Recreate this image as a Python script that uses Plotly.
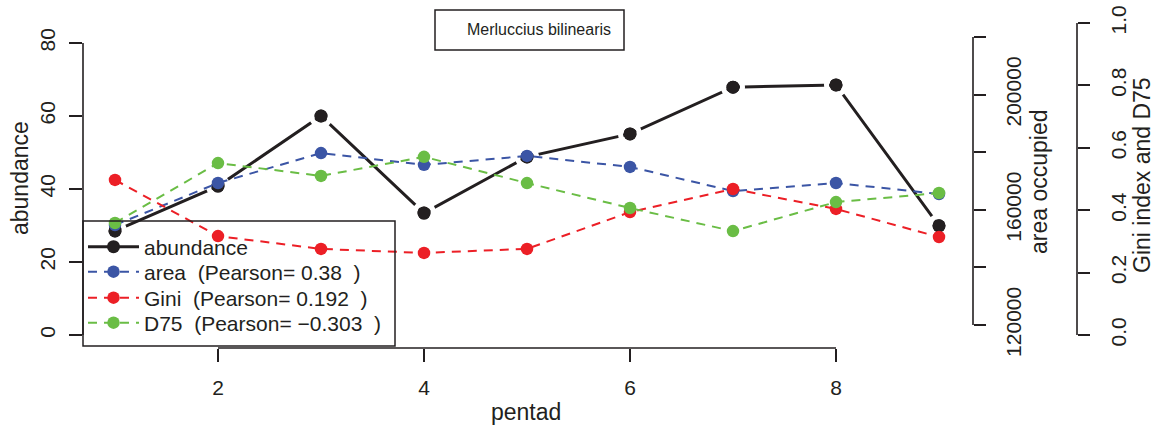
import plotly.graph_objects as go

# ---- data -------------------------------------------------------------
pentad = [1, 2, 3, 4, 5, 6, 7, 8, 9]
abundance = [28.5, 40.8, 60.0, 33.4, 48.8, 55.1, 67.9, 68.5, 29.9]
area = [154700, 169300, 179700, 175600, 178700, 174900, 166500, 169300, 165500]
gini = [0.497, 0.317, 0.276, 0.263, 0.276, 0.394, 0.468, 0.404, 0.314]
d75 = [0.359, 0.551, 0.510, 0.571, 0.487, 0.407, 0.333, 0.426, 0.455]

series_names = [
    "abundance",
    "area\u00a0\u00a0(Pearson=\u00a00.38\u00a0\u00a0)",
    "Gini\u00a0\u00a0(Pearson=\u00a00.192\u00a0\u00a0)",
    "D75\u00a0\u00a0(Pearson=\u00a0\u22120.303\u00a0\u00a0)",
]
species = "Merluccius bilinearis"

x_ticks = [2, 4, 6, 8]
abund_ticks = [0, 20, 40, 60, 80]
area_ticks = [120000, 140000, 160000, 180000, 200000, 220000]
area_ticktext = ["120000", "", "160000", "", "200000", ""]
ratio_ticks = [0.0, 0.2, 0.4, 0.6, 0.8, 1.0]
ratio_ticktext = ["0.0", "0.2", "0.4", "0.6", "0.8", "1.0"]

# ---- styling ----------------------------------------------------------
BLACK = "#231f20"
BLUE = "#3b55a5"
RED = "#ec1f26"
GREEN = "#6abd45"
FONT = "Liberation Sans, Arial, Helvetica, sans-serif"

W, H = 1154, 428
ML, MT, MB, MR = 83, 10, 80, 0
PW = W - ML - MR
PH = H - MT - MB


def paper_x(px):
    return (px - ML) / PW


def paper_y(py):
    return (H - MB - py) / PH


fig = go.Figure()

# abundance: solid line with points, a white ring around each point
fig.add_trace(go.Scatter(
    x=pentad, y=abundance, mode="lines+markers", name=series_names[0],
    line=dict(color=BLACK, width=3),
    marker=dict(color=BLACK, size=13),
    yaxis="y", legend="legend",
))
fig.add_trace(go.Scatter(
    x=pentad, y=abundance, mode="markers", showlegend=False, hoverinfo="skip",
    marker=dict(color="rgba(0,0,0,0)", size=19,
                line=dict(color="white", width=5)),
    yaxis="y",
))
fig.add_trace(go.Scatter(
    x=pentad, y=abundance, mode="markers", showlegend=False, hoverinfo="skip",
    marker=dict(color=BLACK, size=13),
    yaxis="y",
))

dash = "9px,7px"
fig.add_trace(go.Scatter(
    x=pentad, y=area, mode="lines+markers", name=series_names[1],
    line=dict(color=BLUE, width=2, dash=dash),
    marker=dict(color=BLUE, size=12.5),
    yaxis="y2", legend="legend2",
))
fig.add_trace(go.Scatter(
    x=pentad, y=gini, mode="lines+markers", name=series_names[2],
    line=dict(color=RED, width=2, dash=dash),
    marker=dict(color=RED, size=12.5),
    yaxis="y3", legend="legend3",
))
fig.add_trace(go.Scatter(
    x=pentad, y=d75, mode="lines+markers", name=series_names[3],
    line=dict(color=GREEN, width=2, dash=dash),
    marker=dict(color=GREEN, size=12.5),
    yaxis="y3", legend="legend4",
))

tick_common = dict(ticks="outside", tickcolor=BLACK, tickwidth=1.6,
                   showgrid=False, zeroline=False, showline=False,
                   tickfont=dict(family=FONT, size=21, color=BLACK))

fig.update_layout(
    width=W, height=H,
    margin=dict(l=ML, r=MR, t=MT, b=MB, autoexpand=False),
    paper_bgcolor="white", plot_bgcolor="white",
    font=dict(family=FONT, color=BLACK),
    xaxis=dict(domain=[0, paper_x(972)], range=[0.6893, 9.3204],
               tickvals=x_ticks, ticklen=13, ticklabelstandoff=8,
               **tick_common),
    yaxis=dict(range=[-3.562, 89.041], tickvals=abund_ticks,
               tickangle=-90, ticklen=13, ticklabelstandoff=6,
               **tick_common),
    yaxis2=dict(range=[112014, 229375], tickvals=area_ticks,
                ticktext=area_ticktext, overlaying="y", anchor="free",
                position=paper_x(973), side="right", tickangle=-90,
                ticklen=12, ticklabelstandoff=10, **tick_common),
    yaxis3=dict(range=[-0.04167, 1.04167], tickvals=ratio_ticks,
                ticktext=ratio_ticktext, overlaying="y", anchor="free",
                position=paper_x(1077), side="right", tickangle=-90,
                ticklen=12, ticklabelstandoff=11, **tick_common),
    showlegend=True,
)

# one legend per series so the rows can sit at fixed spacing
legend_rows = [247, 272, 298, 323]
for i, row in enumerate(legend_rows):
    key = "legend" if i == 0 else f"legend{i + 1}"
    fig.update_layout({key: dict(
        x=paper_x(83), y=paper_y(row), xanchor="left", yanchor="middle",
        bgcolor="rgba(0,0,0,0)", borderwidth=0, itemwidth=51,
        font=dict(family=FONT, size=21, color=BLACK),
    )})

# axis lines spanning first to last tick
axis_line = dict(color=BLACK, width=1.6)
fig.add_shape(type="line", xref="x", yref="paper", x0=2, x1=8, y0=0, y1=0,
              line=axis_line)
fig.add_shape(type="line", xref="paper", yref="y", x0=0, x1=0, y0=0, y1=80,
              line=axis_line)
fig.add_shape(type="line", xref="paper", yref="y2", x0=paper_x(973),
              x1=paper_x(973), y0=120000, y1=220000, line=axis_line)
fig.add_shape(type="line", xref="paper", yref="y3", x0=paper_x(1077),
              x1=paper_x(1077), y0=0, y1=1, line=axis_line)

# legend frame and species box
fig.add_shape(type="rect", xref="paper", yref="paper",
              x0=paper_x(83), x1=paper_x(395), y0=paper_y(346), y1=paper_y(221),
              line=dict(color=BLACK, width=1.5))
fig.add_shape(type="rect", xref="paper", yref="paper",
              x0=paper_x(435), x1=paper_x(624), y0=paper_y(50), y1=paper_y(10),
              line=dict(color=BLACK, width=1.5))
fig.add_annotation(text=species, xref="paper", yref="paper",
                   x=paper_x(539), y=paper_y(30), showarrow=False,
                   xanchor="center", yanchor="middle",
                   font=dict(family=FONT, size=16, color=BLACK))

# axis titles
titles = [
    ("abundance", 20, 178, -90),
    ("area occupied", 1039, 182, -90),
    ("Gini index and D75", 1142, 175, -90),
    ("pentad", 526, 412, 0),
]
for text, tx, ty, ang in titles:
    fig.add_annotation(text=text, xref="paper", yref="paper",
                       x=paper_x(tx), y=paper_y(ty), showarrow=False,
                       xanchor="center", yanchor="middle", textangle=ang,
                       font=dict(family=FONT, size=23, color=BLACK))

fig.write_html("out.html")
